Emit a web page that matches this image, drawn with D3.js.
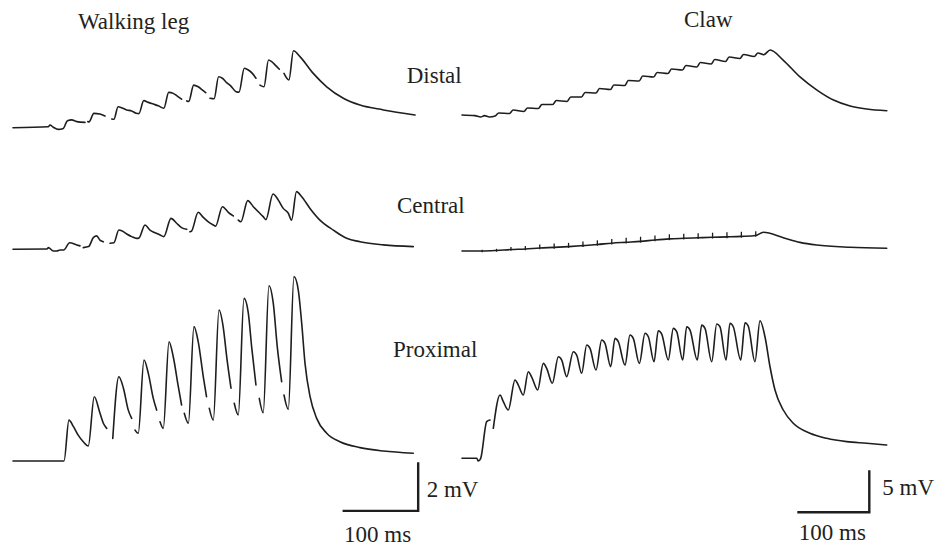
<!DOCTYPE html>
<html>
<head>
<meta charset="utf-8">
<script src="https://cdnjs.cloudflare.com/ajax/libs/d3/7.8.5/d3.min.js"></script>
<style>
body{margin:0;background:#fff;}
svg{display:block;}
.trace{fill:none;stroke:#1e1e1e;stroke-width:1.6;stroke-linejoin:round;stroke-linecap:round;}
.tick{stroke:#1e1e1e;stroke-width:1.3;}
.bar{fill:none;stroke:#1e1e1e;stroke-width:2.4;}
text{font-family:"Liberation Serif","Times New Roman",serif;font-size:23px;fill:#231f20;}
</style>
</head>
<body>
<svg id="fig" width="950" height="548"></svg>
<script>
// each trace: [time in ms, mV above rest], null = break in the record
var legDistal = [[0,0],[46.7,0.04],[48.9,0.11],[53.3,0.02],[60,-0.07],[66.5,-0.03],[72,0.29],[77.6,0.32],[84.3,0.25],[95.2,0.22],null,
  [99,0.25],[100.5,0.24],[107,0.59],[115,0.56],[121.7,0.48],null,
  [130.6,0.36],[133.5,0.35],[139,0.86],[143.8,0.82],[150.4,0.73],[157,0.69],[163,0.59],[166.5,0.58],[173,1.11],[179,1.04],[185.6,0.97],[192.2,0.9],[199.5,0.8],[206,1.45],[212,1.41],[217.3,1.3],[223,1.17],null,
  [229.8,1.1],[232.5,1.08],[239,1.75],[245,1.68],[250.4,1.55],[254.9,1.44],null,
  [260.6,1.21],[266,1.19],[272,2.09],[277,2.03],[282.7,1.85],[288,1.72],[295,1.48],[299,1.46],[306,2.44],[311.3,2.37],[316.6,2.23],[321.4,2.03],null,
  [326.7,1.75],[332,1.68],[338,2.78],[342.2,2.71],[346.6,2.58],[352.3,2.4],null,
  [358.5,2.23],[365,1.96],[371,3.16],[379.6,2.92],[397.2,2.23],[415,1.68],[437,1.21],[459,0.93],[490,0.73],[531.8,0.52]];

var legCentral = [[0,0],[45,0.01],[46.7,0.07],[53.3,-0.07],[57.8,-0.07],[62.2,-0.03],[67,-0.03],[75,0.27],[84.3,0.18],[88.6,0.14],null,
  [93,0.07],[100,0.11],[106.5,0.49],[110.7,0.55],[115,0.38],[119.5,0.31],null,
  [128.3,0.25],[133.5,0.27],[140,0.79],[143.8,0.76],[150.4,0.63],[157,0.52],[163.6,0.45],[166.5,0.46],[174.6,1.0],[181.2,0.79],[187.8,0.68],[194.5,0.59],[199.5,0.52],[209,1.27],[216.5,1.07],[223,0.89],[229.8,0.82],null,
  [234,0.72],[236,0.74],[245,1.52],[251.7,1.31],[258.4,1.13],[265,1.0],[268,0.95],[277,1.75],[284.8,1.52],[291.4,1.37],null,
  [298,1.2],[301.5,1.13],[310.5,2.0],[317.9,1.75],[324.5,1.54],[331,1.34],[334.5,1.22],[344,2.27],[351,2.02],[357.5,1.68],[364.2,1.48],[368.5,1.2],[375,2.37],[381.9,2.16],[392.9,1.68],[406,1.2],[423.7,0.79],[441.4,0.45],[459,0.31],[490,0.18],[529.5,0.11]];

var legProximal = [[0,0],[66,0],[67.5,0],[74,1.68],[80,1.41],[86,1.07],[93,0.79],[99.6,0.62],[107.5,2.64],[115,1.97],[119.5,1.55],[124,1.34],null,
  [132,0.93],[140,3.46],[146,3.0],[152.5,2.09],[157,1.75],null,
  [161.4,1.27],[165.7,1.14],[173.3,4.15],[179,3.6],[185.6,2.57],[190,2.09],null,
  [194.5,1.61],[198.8,1.34],[206.4,4.9],[212,4.28],[218.7,3.05],[223,2.3],null,
  [226.6,1.96],[232,1.55],[239.4,5.52],[245,4.9],[251.7,3.47],[256,2.64],null,
  [259.7,2.16],[265,1.68],[272.5,6.2],[278,5.52],[282.7,4.28],[288.4,2.99],null,
  [292.7,2.37],[298,1.89],[305.6,6.68],[311.3,6.07],[315.7,4.69],[321.4,3.12],null,
  [325.8,2.57],[331,1.98],[338.6,7.2],[344.3,6.48],[349.6,4.69],[355.4,3.26],null,
  [358.5,2.71],[364.2,2.12],[371.7,7.57],[377.4,7.02],[381.9,5.66],[386.3,4.01],[393,2.64],[401.7,1.75],[415,1.14],[432.5,0.79],[459,0.55],[490,0.41],[529.5,0.32]];

var clawDistal = [[0,0.12],[18,0.04],[26,-0.12],[31,0.04],[38,-0.12],[46,0],[51,0.36],[66,0.3],[71,0.71],[86,0.54],[91,0.95],[106,0.89],[111,1.37],
  [126,1.37],[131,1.84],[146,1.73],[151,2.26],[166,2.26],[171,2.8],[186,2.74],[191,3.27],[206,3.15],[211,3.69],[226,3.63],[231,4.22],
  [246,4.17],[251,4.76],[266,4.64],[271,5.18],[286,5.06],[291,5.59],[306,5.47],[311,6.01],[326,5.83],[331,6.37],[346,6.19],[351,6.72],
  [366,6.49],[371,7.02],[386,6.84],[391,7.32],[406,7.08],[411,7.5],[419,7.3],[428,7.85],[446,6.66],[469,4.68],[493,3.09],[516,1.9],[539,1.19],[562,0.83],[590,0.63]];

var clawCentral = [[0,0],[28,0],[48,0.06],[68,0.17],[88,0.24],[108,0.36],[128,0.43],[148,0.52],[168,0.64],[188,0.77],[208,0.93],[228,1.04],[248,1.15],
  [268,1.31],[288,1.44],[308,1.51],[328,1.57],[348,1.63],[368,1.68],[388,1.74],[408,1.84],[418.5,2.23],[446.3,1.58],[469.4,1.03],[492.6,0.71],[538.9,0.44],[589.9,0.32]];

// stimulus artefacts on the central claw record: [time, low mV, high mV]
var clawCentralTicks = [[28,-0.15,0.15],[48,-0.09,0.26],[68,0.02,0.47],[88,0.09,0.59],[108,0.21,0.76],[128,0.28,0.88],[148,0.37,0.97],[168,0.49,1.14],
  [188,0.62,1.27],[208,0.78,1.43],[228,0.89,1.59],[248,1.0,1.7],[268,1.16,1.86],[288,1.29,1.99],[308,1.36,2.06],[328,1.42,2.12],
  [348,1.48,2.18],[368,1.53,2.23],[388,1.59,2.29],[408,1.69,2.34]];

var clawProximal = [[0,0],[20.4,0],[22.6,-0.32],[26,0],[34.3,4.36],[38.9,4.56],null,
  [43.5,3.57],[52.8,7.53],[57.4,6.74],[64.3,5.75],[73.6,9.33],[78.2,8.72],[85.1,7.53],[92.1,10.31],[96.8,9.67],[105.1,8.13],
  [112.9,11.3],[117.6,10.71],[125.4,8.93],[133.8,12.09],[138.5,11.7],[145.4,9.71],[154.6,12.69],[159.3,12.29],[166.2,10.12],
  [173.2,13.48],[177.8,13.09],[186.1,10.51],[194,14.08],[198.6,13.69],[206.5,10.9],[212.5,14.28],[217.1,13.88],[226.4,11.1],
  [233.3,14.67],[237.9,14.28],[246.3,11.3],[254.2,14.88],[258.8,14.47],[266.7,11.5],[272.6,15.18],[277.4,14.79],[286.5,11.7],
  [293.5,15.47],[298.2,15.07],[306.5,11.7],[312.1,15.66],[316.7,15.27],[326.8,11.7],[332.9,15.86],[337.5,15.47],[346.8,11.5],
  [353.8,15.98],[358.3,15.66],[366.7,11.7],[372.2,16.07],[376.8,15.66],[387.1,11.7],[393.1,16.14],[397.6,15.74],[406.9,11.5],
  [413.9,16.37],[420.8,14.47],[427.8,10.9],[434.7,8.13],[446.2,5.75],[460.1,4.17],[483.3,2.98],[506.5,2.38],[534.3,1.98],[562.1,1.79],[589.9,1.58]];

var panelTitles = ["Walking leg", "Claw"];
var rowLabels = ["Distal", "Central", "Proximal"];
var legBar = {ms: 100, mV: 2};
var clawBar = {ms: 100, mV: 5};

var svg = d3.select("#fig");

var xLeg = d3.scaleLinear().domain([0, 540]).range([13, 421.2]);
var xClaw = d3.scaleLinear().domain([0, 600]).range([462, 894]);

function yRow(base, pxPerMV){
  return d3.scaleLinear().domain([0, 1]).range([base, base - pxPerMV]);
}

// baseline of each row and vertical gain (px per mV)
var yLeg = [yRow(127.7, 24.35), yRow(249.3, 24.35), yRow(461, 24.35)];
var yClaw = [yRow(116, 8.4), yRow(251, 8.4), yRow(458.3, 8.4)];

function drawTrace(data, x, y){
  var line = d3.line()
    .defined(function(d){ return d !== null; })
    .x(function(d){ return x(d[0]); })
    .y(function(d){ return y(d[1]); })
    .curve(d3.curveMonotoneX);
  svg.append("path").attr("class", "trace").attr("d", line(data));
}

[legDistal, legCentral, legProximal].forEach(function(tr, i){ drawTrace(tr, xLeg, yLeg[i]); });
[clawDistal, clawCentral, clawProximal].forEach(function(tr, i){ drawTrace(tr, xClaw, yClaw[i]); });

svg.selectAll("line.tick")
  .data(clawCentralTicks)
  .enter().append("line")
  .attr("class", "tick")
  .attr("x1", function(d){ return xClaw(d[0]); })
  .attr("x2", function(d){ return xClaw(d[0]); })
  .attr("y1", function(d){ return yClaw[1](d[1]); })
  .attr("y2", function(d){ return yClaw[1](d[2]); });

// scale bars, drawn in the units of the proximal rows
function scaleBar(bar, x, y, t0, v0, dxText, mvY, msY){
  svg.append("path").attr("class", "bar")
    .attr("d", "M" + x(t0) + "," + y(v0) + "H" + x(t0 + bar.ms) + "V" + y(v0 + bar.mV));
  svg.append("text").attr("x", x(t0 + bar.ms) + dxText).attr("y", mvY).text(bar.mV + " mV");
  svg.append("text").attr("x", x(t0) + 1.5).attr("y", msY).text(bar.ms + " ms");
}
scaleBar(legBar, xLeg, yLeg[2], 436, -2.05, 8.5, 497.3, 541.5);
scaleBar(clawBar, xClaw, yClaw[2], 465.7, -6.43, 13, 495, 539.5);

// titles and row labels
svg.append("text").attr("x", 78).attr("y", 29).text(panelTitles[0]);
svg.append("text").attr("x", 684).attr("y", 27).text(panelTitles[1]);
svg.append("text").attr("x", 406.7).attr("y", 83.3).text(rowLabels[0]);
svg.append("text").attr("x", 397).attr("y", 213).text(rowLabels[1]);
svg.append("text").attr("x", 393).attr("y", 356.7).text(rowLabels[2]);
</script>
</body>
</html>
